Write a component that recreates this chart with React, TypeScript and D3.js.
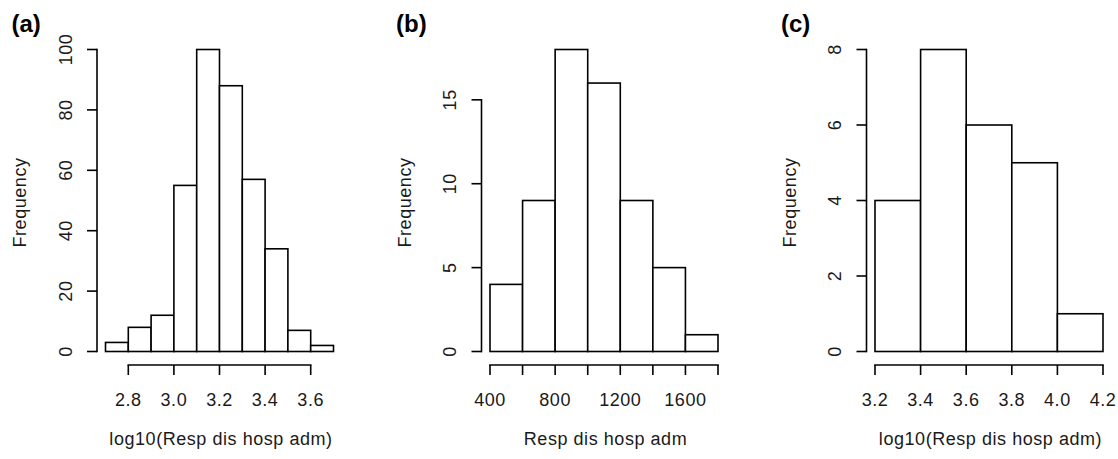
import React from 'react';
import * as d3 from 'd3';

// ---- data ----
const panelLabels = ['(a)', '(b)', '(c)'];
const xTitles = ['log10(Resp dis hosp adm)', 'Resp dis hosp adm', 'log10(Resp dis hosp adm)'];
const yTitle = 'Frequency';

const binEdgesA = [2.7, 2.8, 2.9, 3.0, 3.1, 3.2, 3.3, 3.4, 3.5, 3.6, 3.7];
const countsA = [3, 8, 12, 55, 100, 88, 57, 34, 7, 2];
const xTicksA = [2.8, 3.0, 3.2, 3.4, 3.6];
const xTickLabelsA = ['2.8', '3.0', '3.2', '3.4', '3.6'];
const yTicksA = [0, 20, 40, 60, 80, 100];

const binEdgesB = [400, 600, 800, 1000, 1200, 1400, 1600, 1800];
const countsB = [4, 9, 18, 16, 9, 5, 1];
const xTicksB = [400, 600, 800, 1000, 1200, 1400, 1600, 1800];
const xTickLabelsB = ['400', '', '800', '', '1200', '', '1600', ''];
const yTicksB = [0, 5, 10, 15];

const binEdgesC = [3.2, 3.4, 3.6, 3.8, 4.0, 4.2];
const countsC = [4, 8, 6, 5, 1];
const xTicksC = [3.2, 3.4, 3.6, 3.8, 4.0, 4.2];
const xTickLabelsC = ['3.2', '3.4', '3.6', '3.8', '4.0', '4.2'];
const yTicksC = [0, 2, 4, 6, 8];

// ---- layout ----
const W = 1118;
const H = 459;
const PANEL_X = [0, 384.5, 769.5];
const DATA_LEFT = 105.5;
const DATA_RIGHT = 333.5;
const Y_AXIS_X = 97;
const Y_BOTTOM = 351.5;
const Y_TOP = 49.5;
const X_AXIS_Y = 365;
const TICK = 10;
const FONT = "'Liberation Sans', Arial, Helvetica, sans-serif";
const TEXT_COLOR = '#1a1a1a';
const LINE_W = 1.6;

type PanelProps = {
  ox: number;
  label: string;
  xTitle: string;
  edges: number[];
  counts: number[];
  xTicks: number[];
  xTickLabels: string[];
  yTicks: number[];
};

function Histogram({ ox, label, xTitle, edges, counts, xTicks, xTickLabels, yTicks }: PanelProps) {
  const x = d3
    .scaleLinear()
    .domain([edges[0], edges[edges.length - 1]])
    .range([ox + DATA_LEFT, ox + DATA_RIGHT]);
  const y = d3
    .scaleLinear()
    .domain([0, d3.max(counts) as number])
    .range([Y_BOTTOM, Y_TOP]);
  const ax = ox + Y_AXIS_X;
  const textStyle = { fontFamily: FONT, fontSize: 18, letterSpacing: 0.55, fill: TEXT_COLOR };

  return (
    <g>
      <text x={ox + 11.5} y={32} fontFamily={FONT} fontSize={24} fontWeight="bold" fill="#000">
        {label}
      </text>

      {counts.map((c, i) => (
        <rect
          key={i}
          x={x(edges[i])}
          y={y(c)}
          width={x(edges[i + 1]) - x(edges[i])}
          height={y(0) - y(c)}
          fill="#fff"
          stroke="#000"
          strokeWidth={LINE_W}
        />
      ))}

      {/* y axis */}
      <line
        x1={ax}
        x2={ax}
        y1={y(yTicks[0])}
        y2={y(yTicks[yTicks.length - 1])}
        stroke="#000"
        strokeWidth={LINE_W}
        strokeLinecap="square"
      />
      {yTicks.map((t) => (
        <g key={t}>
          <line x1={ax - TICK} x2={ax} y1={y(t)} y2={y(t)} stroke="#000" strokeWidth={LINE_W} />
          <text
            transform={`translate(${ax - 25.5},${y(t)}) rotate(-90)`}
            textAnchor="middle"
            style={textStyle}
          >
            {t}
          </text>
        </g>
      ))}
      <text
        transform={`translate(${ax - 71},${(Y_BOTTOM + Y_TOP) / 2 + 2}) rotate(-90)`}
        textAnchor="middle"
        style={textStyle}
      >
        {yTitle}
      </text>

      {/* x axis */}
      <line
        x1={x(xTicks[0])}
        x2={x(xTicks[xTicks.length - 1])}
        y1={X_AXIS_Y}
        y2={X_AXIS_Y}
        stroke="#000"
        strokeWidth={LINE_W}
        strokeLinecap="square"
      />
      {xTicks.map((t, i) => (
        <g key={t}>
          <line x1={x(t)} x2={x(t)} y1={X_AXIS_Y} y2={X_AXIS_Y + TICK} stroke="#000" strokeWidth={LINE_W} />
          {xTickLabels[i] ? (
            <text x={x(t)} y={406} textAnchor="middle" style={textStyle}>
              {xTickLabels[i]}
            </text>
          ) : null}
        </g>
      ))}
      <text x={ox + (DATA_LEFT + DATA_RIGHT) / 2 + 1.5} y={445} textAnchor="middle" style={textStyle}>
        {xTitle}
      </text>
    </g>
  );
}

export default function App() {
  const panels = [
    { edges: binEdgesA, counts: countsA, xTicks: xTicksA, xTickLabels: xTickLabelsA, yTicks: yTicksA },
    { edges: binEdgesB, counts: countsB, xTicks: xTicksB, xTickLabels: xTickLabelsB, yTicks: yTicksB },
    { edges: binEdgesC, counts: countsC, xTicks: xTicksC, xTickLabels: xTickLabelsC, yTicks: yTicksC },
  ];
  return (
    <svg
      width={W}
      height={H}
      viewBox={`0 0 ${W} ${H}`}
      style={{ position: 'absolute', left: 0, top: 0, display: 'block', background: '#fff' }}
    >
      <rect width={W} height={H} fill="#fff" />
      {panels.map((p, i) => (
        <Histogram key={i} ox={PANEL_X[i]} label={panelLabels[i]} xTitle={xTitles[i]} {...p} />
      ))}
    </svg>
  );
}
